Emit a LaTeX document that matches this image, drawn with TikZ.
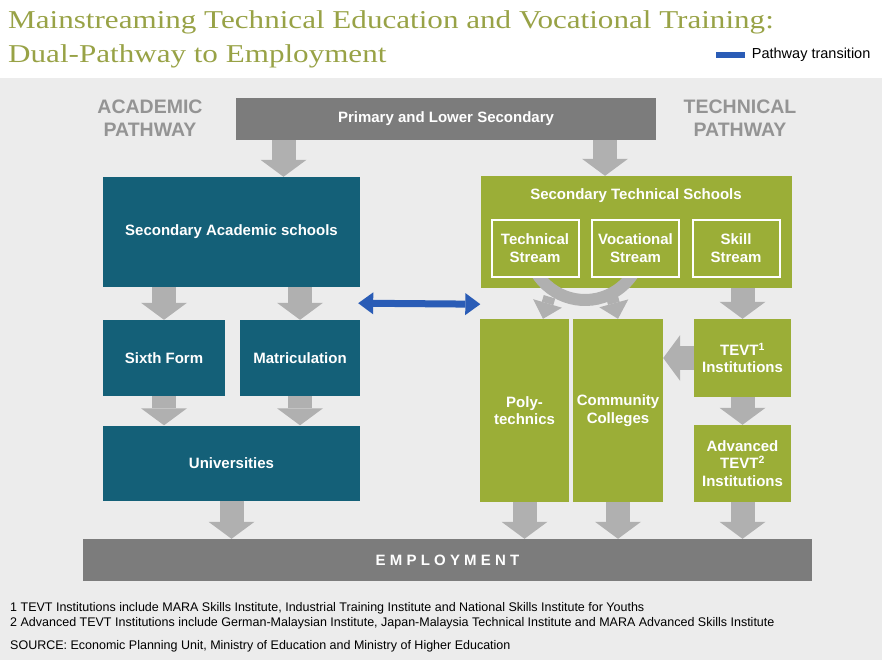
\documentclass[tikz,border=0pt]{standalone}
\usepackage{fontspec}
\setsansfont{Liberation Sans}
\newfontfamily\titlefont[FakeStretch=1.21]{Liberation Serif}
\usetikzlibrary{arrows.meta,positioning,calc}

\definecolor{titleolive}{RGB}{152,162,70}
\definecolor{olivebox}{RGB}{155,174,55}
\definecolor{tealbox}{RGB}{20,96,120}
\definecolor{darkbar}{RGB}{124,124,124}
\definecolor{arrowgray}{RGB}{176,176,176}
\definecolor{panelgray}{RGB}{219,219,219}
\definecolor{backgray}{RGB}{236,236,236}
\definecolor{labelgray}{RGB}{148,148,148}
\definecolor{pathblue}{RGB}{42,92,182}

\pgfdeclarelayer{panels}
\pgfdeclarelayer{links}
\pgfsetlayers{panels,links,main}

\begin{document}
\begin{tikzpicture}[x=1pt,y=-1pt,
  >={Triangle[length=15pt,width=22pt,line width=0pt]},
  box/.style={rectangle, inner sep=0pt, text=white, align=center,
    font=\sffamily\bfseries\fontsize{15}{17.5}\selectfont},
  acad/.style={box, fill=tealbox},
  tech/.style={box, fill=olivebox},
  stream/.style={tech, draw=white, line width=2pt, minimum width=87pt, minimum height=57pt},
  fatarrow/.style={draw=arrowgray, line width=24pt,
    -{Triangle[length=17pt,width=46pt,line width=0pt]}},
  cycarrow/.style={draw=arrowgray, line width=12pt,
    -{Triangle[length=16pt,width=30pt,line width=0pt]}},
  transit/.style={draw=pathblue, line width=7pt, ->},
  pathlabel/.style={text=labelgray, align=center,
    font=\sffamily\bfseries\fontsize{19.5}{23}\selectfont},
  note/.style={anchor=base west, inner sep=0pt,
    font=\sffamily\fontsize{12.5}{14}\selectfont}]

\useasboundingbox (0,0) rectangle (882,660);
\fill[backgray] (0,78) rectangle (882,660);

%Title and legend
\node[anchor=base west, inner sep=0pt, text=titleolive,
  font=\titlefont\fontsize{25.7}{30}\selectfont] (title1) at (8,29)
  {Mainstreaming Technical Education and Vocational Training:};
\node[anchor=base west, inner sep=0pt, text=titleolive,
  font=\titlefont\fontsize{25.7}{30}\selectfont] (title2) at (8,63)
  {Dual-Pathway to Employment};
\node[fill=pathblue, inner sep=0pt, minimum width=29pt, minimum height=6pt] (legbar) at (730,55) {};
\node[right=7pt of legbar, inner sep=0pt, font=\sffamily\fontsize{14.5}{16}\selectfont] (legtxt) {Pathway transition};

%Pathway labels
\node[pathlabel] (acadlbl) at (150,118) {ACADEMIC\\PATHWAY};
\node[pathlabel] (techlbl) at (740,118) {TECHNICAL\\PATHWAY};
\node[box, fill=darkbar, minimum width=420pt, minimum height=42pt] (prim) at (446,119) {Primary and Lower Secondary};

%Academic pathway
\node[acad, minimum width=257pt, minimum height=110pt] (secacad) at (231.5,232) {Secondary Academic schools};
\node[acad, minimum width=122pt, minimum height=76pt] (sixth) at (164,358) {Sixth Form};
\node[acad, minimum width=120pt, minimum height=76pt] (matric) at (300,358) {Matriculation};
\node[acad, minimum width=257pt, minimum height=75pt] (uni) at (231.5,463) {Universities};

%Technical pathway
\node[tech, minimum width=311pt, minimum height=112pt] (sts) at (636,232) {};
\node[box] (ststitle) at (636,196) {Secondary Technical Schools};
\coordinate (cyc) at (585,243);
\draw[arrowgray, line width=12pt] (cyc) ++(150:57) arc[start angle=150, end angle=30, radius=57];
\node[stream] (tstream) at (535,248) {Technical\\Stream};
\node[stream] (vstream) at (635.5,248) {Vocational\\Stream};
\node[stream] (sstream) at (736,248) {Skill\\Stream};
\node[tech, minimum width=89pt, minimum height=183pt] (poly) at (524.5,410.5) {Poly-\\technics};
\node[tech, minimum width=90pt, minimum height=183pt] (cc) at (618,410.5) {Community\\Colleges};
\node[tech, minimum width=97pt, minimum height=78pt] (tevt) at (742.5,358) {TEVT\textsuperscript{1}\\Institutions};
\node[tech, minimum width=97pt, minimum height=77pt] (adv) at (742.5,463.5) {Advanced\\TEVT\textsuperscript{2}\\Institutions};

\node[box, fill=darkbar, minimum width=729pt, minimum height=42pt] (emp) at (447.5,560)
  {\addfontfeature{LetterSpace=28}EMPLOYMENT};

%Gray arrows
\draw[fatarrow] ([xshift=52pt]secacad.north |- prim.south) -- ([xshift=52pt]secacad.north);
\draw[fatarrow] ([xshift=-31pt]sts.north |- prim.south) -- ([xshift=-31pt]sts.north);
\draw[fatarrow] (sixth.north |- secacad.south) -- (sixth.north);
\draw[fatarrow] (matric.north |- secacad.south) -- (matric.north);
\draw[fatarrow] (sixth.south) -- (sixth.south |- uni.north);
\draw[fatarrow] (matric.south) -- (matric.south |- uni.north);
\draw[fatarrow] (uni.south) -- (uni.south |- emp.north);
\draw[cycarrow] ([xshift=25pt,yshift=22pt]poly.north) -- ([xshift=18.5pt]poly.north);
\draw[cycarrow] ([xshift=-6pt,yshift=22pt]cc.north) -- ([xshift=0pt]cc.north);
\draw[fatarrow] (tevt.north |- sts.south) -- (tevt.north);
\draw[fatarrow] (tevt.west) -- (tevt.west -| cc.east);
\draw[fatarrow] (tevt.south) -- (adv.north);
\draw[fatarrow] (poly.south) -- (poly.south |- emp.north);
\draw[fatarrow] (cc.south) -- (cc.south |- emp.north);
\draw[fatarrow] (adv.south) -- (adv.south |- emp.north);

%Pathway transitions
\draw[transit, <->] ([xshift=-2pt,yshift=-16pt]secacad.south east) -- ([yshift=-16pt]sts.south west);
\coordinate (u1) at ([yshift=27pt]uni.east);
\coordinate (u2) at ([yshift=1pt]uni.east);
\coordinate (u3) at ([yshift=-24pt]uni.east);
\begin{pgfonlayer}{links}
\draw[transit] (poly.center |- u1) -- (u1);
\draw[transit] (cc.center |- u2) -- (u2);
\draw[transit] (adv.center |- u3) -- (u3);
\end{pgfonlayer}

\begin{pgfonlayer}{panels}
\fill[panelgray] (83,155) rectangle (378,520);
\fill[panelgray] (458,155) rectangle (812,520);
\end{pgfonlayer}

%Notes
\node[note] (note1) at (10,611) {1 TEVT Institutions include MARA Skills Institute, Industrial Training Institute and National Skills Institute for Youths};
\node[note] (note2) at (10,626) {2 Advanced TEVT Institutions include German-Malaysian Institute, Japan-Malaysia Technical Institute and MARA Advanced Skills Institute};
\node[note] (note3) at (10,649) {SOURCE: Economic Planning Unit, Ministry of Education and Ministry of Higher Education};
\end{tikzpicture}
\end{document}
